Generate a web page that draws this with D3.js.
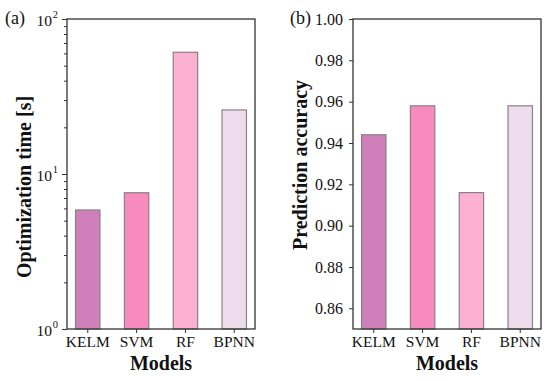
<!DOCTYPE html>
<meta charset="utf-8">
<style>
  body { margin: 0; background: #fff; }
  text { font-family: "Liberation Serif", "Times New Roman", serif; fill: #111; }
  .x-axis .tick text { font-size: 15.5px; }
  .y-axis .tick text { font-size: 16px; }
  .axis-title { font-size: 20px; font-weight: bold; }
  .panel-label { font-size: 18px; }
</style>
<body>
<script src="https://cdn.jsdelivr.net/npm/d3@7"></script>
<script>
// data
var models = ["KELM", "SVM", "RF", "BPNN"];
var optTime = [5.86, 7.57, 61, 25.9];
var accuracy = [0.944, 0.958, 0.916, 0.958];
var accTicks = [0.86, 0.88, 0.90, 0.92, 0.94, 0.96, 0.98, 1.00];
var barColors = ["#cf80bb", "#f78bbd", "#fdb1d1", "#eddceb"];

var svg = d3.select("body").append("svg")
    .attr("width", 550).attr("height", 381);

var plotTop = 19, plotBottom = 329;

function drawPanel(opts) {
    var g = svg.append("g");

    var x = d3.scaleBand()
        .domain(models)
        .range([opts.left, opts.right])
        .paddingInner(0.5)
        .paddingOuter(0.175);

    var y = opts.y;

    // bars
    g.selectAll("rect.bar")
        .data(opts.values)
        .enter().append("rect")
        .attr("class", "bar")
        .attr("x", function(d, i) { return x(models[i]); })
        .attr("width", x.bandwidth())
        .attr("y", function(d) { return y(d); })
        .attr("height", function(d) { return plotBottom - y(d); })
        .attr("fill", function(d, i) { return barColors[i]; })
        .attr("stroke", "#8a8088")
        .attr("stroke-width", 1.2);

    // x axis
    var xAxis = g.append("g")
        .attr("class", "x-axis")
        .attr("transform", "translate(0," + plotBottom + ")")
        .call(d3.axisBottom(x).tickSize(4).tickPadding(3).tickSizeOuter(0));
    xAxis.select(".domain").remove();
    xAxis.selectAll(".tick line").attr("stroke", "#333");
    xAxis.selectAll(".tick text").attr("fill", "#111");

    // y axis
    var yAxis = g.append("g")
        .attr("class", "y-axis")
        .attr("transform", "translate(" + opts.left + ",0)")
        .call(opts.axis);
    yAxis.select(".domain").remove();
    yAxis.selectAll(".tick line").attr("stroke", "#333");
    yAxis.selectAll(".tick text").attr("fill", "#111");

    // frame
    g.append("rect")
        .attr("x", opts.left).attr("y", plotTop)
        .attr("width", opts.right - opts.left).attr("height", plotBottom - plotTop)
        .attr("fill", "none").attr("stroke", "#333").attr("stroke-width", 1.3);

    // titles
    g.append("text").attr("class", "axis-title")
        .attr("x", (opts.left + opts.right) / 2).attr("y", 370)
        .attr("text-anchor", "middle").text("Models");

    g.append("text").attr("class", "axis-title")
        .attr("transform", "translate(" + opts.ylabX + "," + opts.ylabY + ") rotate(-90)")
        .attr("text-anchor", "middle").attr("dy", "0.35em").text(opts.ylab);

    g.append("text").attr("class", "panel-label")
        .attr("x", opts.tagX).attr("y", 24).text(opts.tag);

    return g;
}

// (a) log scale
var yLog = d3.scaleLog().domain([1, 100]).range([plotBottom, plotTop]);
var logTicks = yLog.ticks();
var isMajor = function(d) { return [1, 10, 100].indexOf(d) >= 0; };
var axisA = function(sel) {
    sel.call(d3.axisLeft(yLog).tickValues(logTicks).tickSize(0).tickFormat(""));
    sel.selectAll(".tick line")
        .attr("x2", function(d) { return isMajor(d) ? -5 : -3; });
    var major = sel.selectAll(".tick").filter(isMajor);
    major.select("text").remove();
    major.append("text")
        .attr("x", -15).attr("dy", "0.4em")
        .attr("text-anchor", "end")
        .style("font-size", "15.5px")
        .text("10");
    major.append("text")
        .attr("x", -9).attr("dy", "-0.15em")
        .attr("text-anchor", "end")
        .style("font-size", "10.5px")
        .text(function(d) { return Math.round(Math.log10(d)); });
};

drawPanel({
    left: 67, right: 255, y: yLog, values: optTime, axis: axisA,
    ylab: "Optimization time [s]", ylabX: 24, ylabY: 187,
    tag: "(a)", tagX: 5
});

// (b) linear scale
var yLin = d3.scaleLinear().domain([0.85, 1.0]).range([plotBottom, plotTop]);
var axisB = d3.axisLeft(yLin).tickValues(accTicks).tickSize(4).tickPadding(6)
    .tickFormat(d3.format(".2f"));

drawPanel({
    left: 353, right: 541, y: yLin, values: accuracy, axis: axisB,
    ylab: "Prediction accuracy", ylabX: 300, ylabY: 165,
    tag: "(b)", tagX: 290
});
</script>
</body>
